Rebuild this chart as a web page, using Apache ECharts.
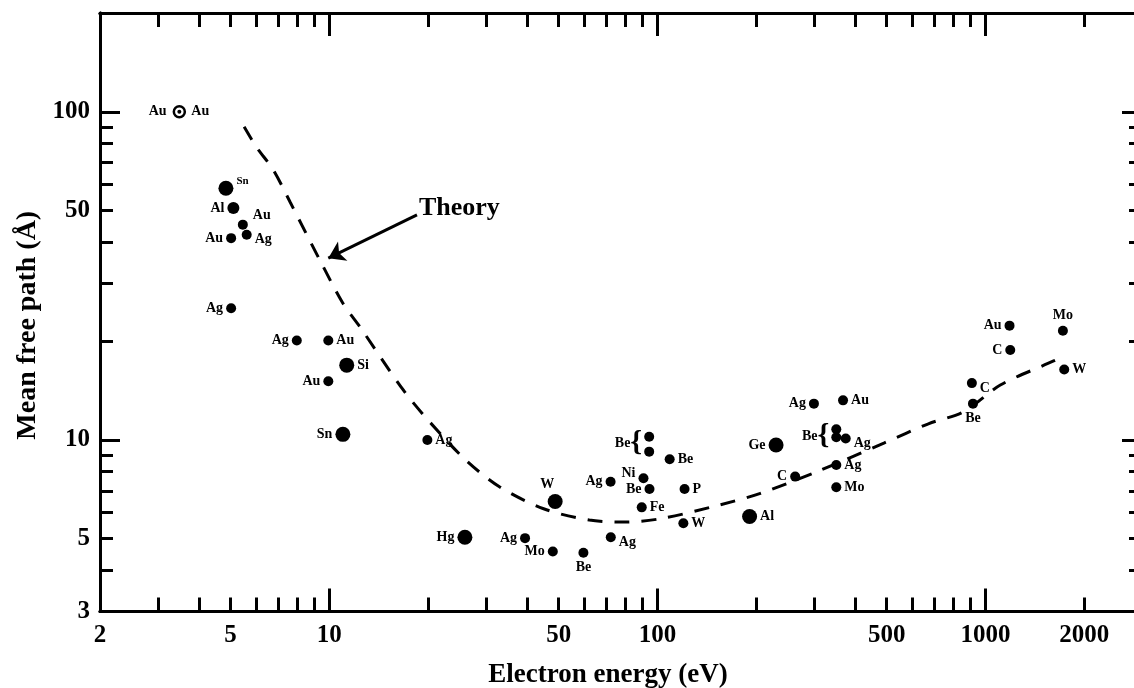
<!DOCTYPE html>
<html><head><meta charset="utf-8">
<script src="https://cdn.jsdelivr.net/npm/echarts@6/dist/echarts.min.js"></script>
<style>html,body{margin:0;padding:0;background:#fff}#c{width:1134px;height:688px}</style>
</head><body><div id="c"></div><script>
// ---------- axis ticks & labels ----------
const xLabelValues = [2, 5, 10, 50, 100, 500, 1000, 2000];
const xMinorTicks = [3, 4, 5, 6, 7, 8, 9, 20, 30, 40, 50, 60, 70, 80, 90, 200, 300, 400, 500, 600, 700, 800, 900, 2000];
const xMajorTicks = [10, 100, 1000];
const yLabelValues = [3, 5, 10, 50, 100];
const yMinorTicks = [4, 5, 6, 7, 8, 9, 20, 30, 40, 50, 60, 70, 80, 90];
const yMajorTicks = [10, 100];

// ---------- measured points: [energy eV, mean free path Å, element] ----------
const auRing = [[3.49, 100, 'Au']];
const smallRight = [[9.93, 20.1, 'Au'], [19.9, 10.0, 'Ag'], [109, 8.73, 'Be'], [89.6, 6.23, 'Fe'], [121, 7.09, 'P'], [120, 5.57, 'W'], [368, 13.2, 'Au'], [351, 8.39, 'Ag'], [351, 7.17, 'Mo'], [1738, 16.4, 'W']];
const smallRightLow = [[5.6, 42.2, 'Ag'], [72.1, 5.05, 'Ag'], [375, 10.1, 'Ag'], [909, 14.9, 'C']];
const smallRightHigh = [[5.45, 45.3, 'Au']];
const smallLeft = [[5.02, 41.2, 'Au'], [5.02, 25.2, 'Ag'], [7.96, 20.1, 'Ag'], [9.93, 15.1, 'Au'], [39.5, 5.02, 'Ag'], [48.0, 4.57, 'Mo'], [72, 7.46, 'Ag'], [94.6, 7.09, 'Be'], [300, 12.9, 'Ag'], [263, 7.73, 'C'], [1184, 22.3, 'Au'], [1190, 18.8, 'C']];
const smallLeftHigh = [[90.7, 7.64, 'Ni']];
const bigLeft = [[11.0, 10.4, 'Sn'], [25.9, 5.05, 'Hg'], [230, 9.65, 'Ge']];
const midLeft = [[5.10, 50.9, 'Al']];
const bigRight = [[11.3, 16.9, 'Si'], [191, 5.84, 'Al']];
const bigRightHigh = [[4.84, 58.5, 'Sn']];
const bigAbove = [[48.8, 6.49, 'W']];
const smallAbove = [[1722, 21.5, 'Mo']];
const smallBelow = [[59.5, 4.53, 'Be'], [916, 12.9, 'Be']];
const bracketUpper = [[94.4, 10.23, 'Be'], [351, 10.78, 'Be']];
const bracketLower = [[94.4, 9.21], [351, 10.19]];

// ---------- theory curve ----------
const theoryEnergy = [5.5, 6.0, 6.75, 7.6, 9.4, 11.0, 12.4, 16.8, 20.3, 26, 33, 45, 62, 80, 104, 155, 206, 306, 490, 670, 860, 1110, 1550, 1700];
const theoryPath = [90, 78, 66.5, 53, 35, 26.1, 22.1, 14.2, 11.3, 8.7, 7.2, 6.17, 5.7, 5.62, 5.77, 6.34, 6.87, 8.0, 9.78, 11.2, 12.2, 14.7, 17.1, 17.8];
const arrowFrom = [18.5, 48.5];
const arrowTo = [9.93, 35.8];
const theoryNote = [[18.5, 48.5, 'Theory']];

const X_MIN = 2, X_MAX = 3000, Y_MIN = 3, Y_MAX = 200;
const FONT = 'Liberation Serif';
const INK = '#000';

function xAx(pos, ticks, len, labels, name) {
  const a = {
    type: 'log', logBase: 10, min: X_MIN, max: X_MAX, position: pos,
    axisLine: { show: true, onZero: false, lineStyle: { color: INK, width: 3 } },
    axisTick: { show: true, inside: true, length: len, customValues: ticks, lineStyle: { color: INK, width: 3 } },
    axisLabel: labels ? { show: true, customValues: labels, margin: 12, color: INK, fontFamily: FONT, fontWeight: 'bold', fontSize: 25, formatter: v => String(Math.round(v)) } : { show: false },
    splitLine: { show: false }
  };
  if (name) {
    a.name = name; a.nameLocation = 'middle'; a.nameGap = 50;
    a.nameTextStyle = { color: INK, fontFamily: FONT, fontWeight: 'bold', fontSize: 27, padding: [0, 26, 0, 0] };
  }
  return a;
}
function yAx(pos, ticks, len, labels, name) {
  const a = {
    type: 'log', logBase: 10, min: Y_MIN, max: Y_MAX, position: pos,
    axisLine: { show: true, onZero: false, lineStyle: { color: INK, width: 3 } },
    axisTick: { show: true, inside: true, length: len, customValues: ticks, lineStyle: { color: INK, width: 3 } },
    axisLabel: labels ? { show: true, customValues: labels, margin: 10, color: INK, fontFamily: FONT, fontWeight: 'bold', fontSize: 25, formatter: v => String(Math.round(v)) } : { show: false },
    splitLine: { show: false }
  };
  if (name) {
    a.name = name; a.nameLocation = 'middle'; a.nameGap = 57; a.nameRotate = 90;
    a.nameTextStyle = { color: INK, fontFamily: FONT, fontWeight: 'bold', fontSize: 28, padding: [0, 26, 0, 0] };
  }
  return a;
}

const lbl = (pos, extra) => Object.assign({
  show: true, position: pos, distance: 3, color: INK, fontFamily: FONT, fontWeight: 'bold', fontSize: 14,
  formatter: p => p.data[2]
}, extra || {});

function dots(data, size, label) {
  return { type: 'scatter', xAxisIndex: 0, yAxisIndex: 0, data: data, symbol: 'circle', symbolSize: size,
    itemStyle: { color: INK, opacity: 1 }, label: label, silent: true, z: 5 };
}

const theoryData = theoryEnergy.map((e, i) => [e, theoryPath[i]]);

const option = {
  backgroundColor: '#fff',
  animation: false,
  grid: { left: 100, top: 13, width: 1042, height: 598.5, containLabel: false, outerBoundsMode: 'none' },
  xAxis: [
    xAx('bottom', xMinorTicks, 14, xLabelValues, 'Electron energy (eV)'),
    xAx('bottom', xMajorTicks, 23, null),
    xAx('top', xMinorTicks, 14, null),
    xAx('top', xMajorTicks, 23, null)
  ],
  yAxis: [
    yAx('left', yMinorTicks, 13, yLabelValues, 'Mean free path (\u00C5)'),
    yAx('left', yMajorTicks, 20, null),
    yAx('right', yMinorTicks, 13, null),
    yAx('right', yMajorTicks, 20, null)
  ],
  series: [
    {
      type: 'line', xAxisIndex: 0, yAxisIndex: 0, data: theoryData, smooth: 0.3, showSymbol: false, silent: true,
      lineStyle: { color: INK, width: 3, type: [15, 12], opacity: 1 }, z: 3,
      markLine: {
        silent: true, symbol: ['none', 'arrow'], symbolSize: 16, label: { show: false },
        lineStyle: { color: INK, width: 3, type: 'solid', opacity: 1 },
        data: [[{ coord: arrowFrom }, { coord: arrowTo }]]
      }
    },
    { type: 'scatter', xAxisIndex: 0, yAxisIndex: 0, data: theoryNote, symbolSize: 0, silent: true,
      itemStyle: { opacity: 1 },
      label: lbl('right', { fontSize: 26, distance: 2, offset: [0, -7] }) },
    // Au ring with dot
    { type: 'scatter', xAxisIndex: 0, yAxisIndex: 0, data: auRing, symbol: 'circle', symbolSize: 11, silent: true,
      itemStyle: { color: '#fff', borderColor: INK, borderWidth: 2.5, opacity: 1 }, label: lbl('left', { distance: 6 }) },
    { type: 'scatter', xAxisIndex: 0, yAxisIndex: 0, data: auRing, symbol: 'circle', symbolSize: 4, silent: true,
      itemStyle: { color: INK, opacity: 1 }, label: lbl('right', { distance: 10 }) },
    dots(smallRight, 10, lbl('right')),
    dots(smallRightLow, 10, lbl('right', { offset: [0, 5] })),
    dots(smallRightHigh, 10, lbl('right', { offset: [2, -9] })),
    dots(smallLeft, 10, lbl('left')),
    dots(smallLeftHigh, 10, lbl('left', { offset: [0, -5] })),
    dots(bigLeft, 15, lbl('left')),
    dots(midLeft, 12, lbl('left')),
    dots(bigRight, 15, lbl('right')),
    dots(bigRightHigh, 15, lbl('right', { fontSize: 11, offset: [0, -7] })),
    dots(bigAbove, 15, lbl('top', { offset: [-8, 0] })),
    dots(smallAbove, 10, lbl('top')),
    dots(smallBelow, 10, lbl('bottom')),
    dots(bracketUpper, 10, lbl('left', {
      distance: 2, offset: [0, 7],
      formatter: p => '{b|' + p.data[2] + '}{r|{}',
      rich: { b: { fontFamily: FONT, fontWeight: 'bold', fontSize: 14, color: INK }, r: { fontFamily: FONT, fontSize: 30, color: INK } }
    })),
    dots(bracketLower, 10, { show: false })
  ]
};

const chart = echarts.init(document.getElementById('c'), null, { renderer: 'canvas' });
chart.setOption(option);
</script></body></html>
